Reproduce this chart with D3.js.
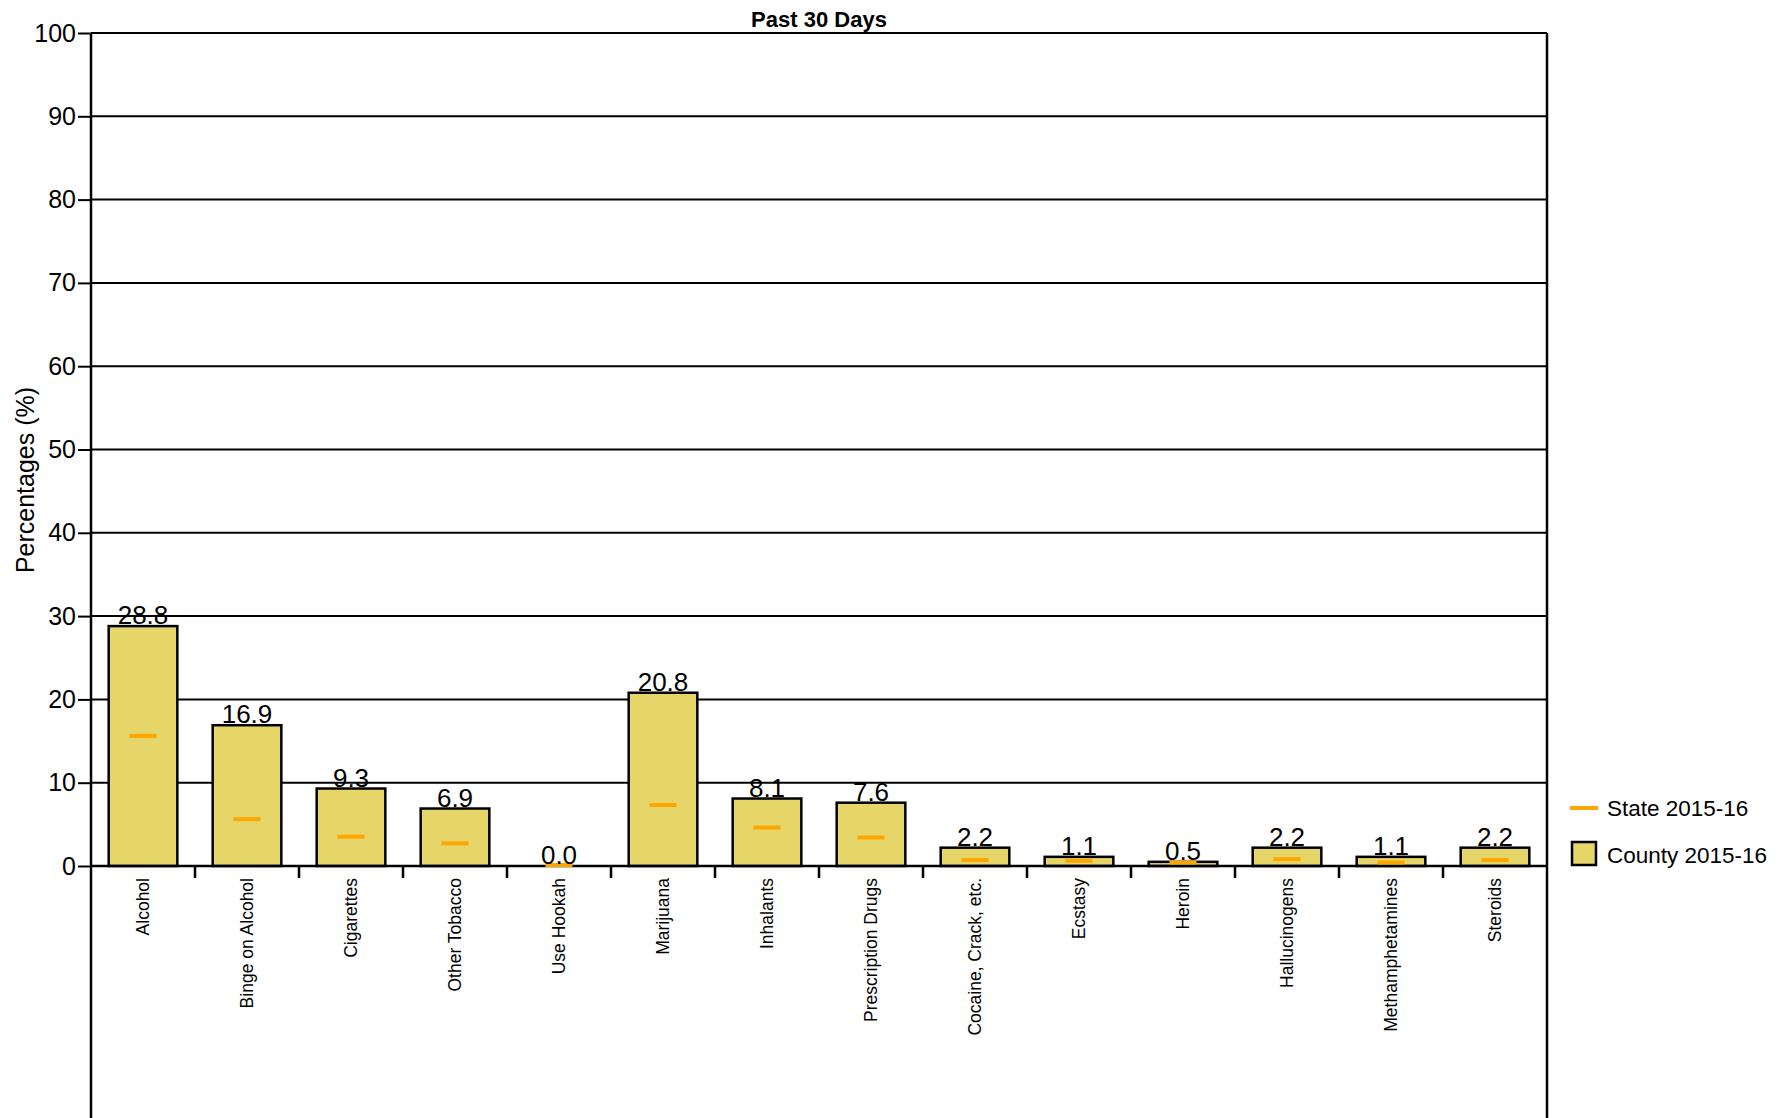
<!DOCTYPE html>
<html>
<head>
<meta charset="utf-8">
<script src="https://cdn.jsdelivr.net/npm/d3@7"></script>
<style>
  body { margin: 0; background: #fff; }
  text { font-family: "Liberation Sans", Arial, sans-serif; fill: #000; }
</style>
</head>
<body>
<svg id="chart" width="1784" height="1118"></svg>
<script>
// categories and values
const categories = ["Alcohol", "Binge on Alcohol", "Cigarettes", "Other Tobacco", "Use Hookah",
  "Marijuana", "Inhalants", "Prescription Drugs", "Cocaine, Crack, etc.", "Ecstasy",
  "Heroin", "Hallucinogens", "Methamphetamines", "Steroids"]
const county = [28.8, 16.9, 9.3, 6.9, 0.0, 20.8, 8.1, 7.6, 2.2, 1.1, 0.5, 2.2, 1.1, 2.2]
const state = [15.5, 5.5, 3.4, 2.6, 0.0, 7.2, 4.5, 3.3, 0.6, 0.5, 0.3, 0.7, 0.3, 0.6]
const yTicks = [0, 10, 20, 30, 40, 50, 60, 70, 80, 90, 100]

const svg = d3.select("#chart")
const W = 1784, H = 1118
const plotLeft = 91, plotRight = 1547, plotTop = 33, plotBottom = 866

const x = d3.scaleBand().domain(categories).range([plotLeft, plotRight]).paddingInner(0.34).paddingOuter(0.17)
const y = d3.scaleLinear().domain([0, 100]).range([plotBottom, plotTop])

const barFill = "rgb(230, 214, 106)"
const stateColor = "#FFA500"

// horizontal gridlines
svg.append("g")
  .selectAll("line")
  .data(yTicks)
  .join("line")
  .attr("x1", plotLeft).attr("x2", plotRight)
  .attr("y1", d => y(d)).attr("y2", d => y(d))
  .attr("stroke", "#000")
  .attr("stroke-width", 2)

// y axis with outer ticks
const yAxis = svg.append("g")
  .attr("transform", `translate(${plotLeft},0)`)
  .call(d3.axisLeft(y).tickValues(yTicks).tickSize(13).tickPadding(2).tickFormat(d3.format("d")))
yAxis.select(".domain").remove()
yAxis.selectAll(".tick line").attr("stroke", "#000").attr("stroke-width", 2)
yAxis.selectAll(".tick text")
  .style("font-family", '"Liberation Sans", Arial, sans-serif')
  .style("font-size", "25px")
  .attr("fill", "#000")

// left and right frame lines run to the bottom
svg.append("line")
  .attr("x1", plotLeft).attr("x2", plotLeft).attr("y1", plotTop).attr("y2", H)
  .attr("stroke", "#000").attr("stroke-width", 2.5)
svg.append("line")
  .attr("x1", plotRight).attr("x2", plotRight).attr("y1", plotTop).attr("y2", H)
  .attr("stroke", "#000").attr("stroke-width", 2.5)

// county bars
svg.append("g")
  .selectAll("rect")
  .data(categories)
  .join("rect")
  .attr("x", d => x(d))
  .attr("y", (d, i) => y(county[i]))
  .attr("width", x.bandwidth())
  .attr("height", (d, i) => y(0) - y(county[i]))
  .attr("fill", barFill)
  .attr("stroke", "#000")
  .attr("stroke-width", 2.5)

// baseline
svg.append("line")
  .attr("x1", plotLeft).attr("x2", plotRight).attr("y1", y(0)).attr("y2", y(0))
  .attr("stroke", "#000").attr("stroke-width", 2.5)

// state markers
const markW = 27
svg.append("g")
  .selectAll("line")
  .data(categories)
  .join("line")
  .attr("x1", d => x(d) + x.bandwidth() / 2 - markW / 2)
  .attr("x2", d => x(d) + x.bandwidth() / 2 + markW / 2)
  .attr("y1", (d, i) => y(state[i]) - 1)
  .attr("y2", (d, i) => y(state[i]) - 1)
  .attr("stroke", stateColor)
  .attr("stroke-width", 4)

// value labels
svg.append("g")
  .selectAll("text")
  .data(categories)
  .join("text")
  .attr("x", d => x(d) + x.bandwidth() / 2)
  .attr("y", (d, i) => y(county[i]) - 2)
  .attr("text-anchor", "middle")
  .style("font-size", "26px")
  .text((d, i) => county[i].toFixed(1))

// tick marks between categories
const gap = (x.step() - x.bandwidth()) / 2
svg.append("g")
  .selectAll("line")
  .data(categories.slice(1))
  .join("line")
  .attr("x1", d => x(d) - gap).attr("x2", d => x(d) - gap)
  .attr("y1", y(0)).attr("y2", y(0) + 12)
  .attr("stroke", "#000").attr("stroke-width", 2.5)

// category labels, rotated
svg.append("g")
  .selectAll("text")
  .data(categories)
  .join("text")
  .attr("transform", d => `translate(${x(d) + x.bandwidth() / 2},${y(0) + 12}) rotate(-90)`)
  .attr("text-anchor", "end")
  .attr("dy", "0.35em")
  .style("font-size", "17.5px")
  .text(d => d)

// title
svg.append("text")
  .attr("x", (plotLeft + plotRight) / 2)
  .attr("y", 27)
  .attr("text-anchor", "middle")
  .style("font-size", "22px")
  .style("font-weight", "bold")
  .text("Past 30 Days")

// y axis title
svg.append("text")
  .attr("transform", "translate(34,480) rotate(-90)")
  .attr("text-anchor", "middle")
  .style("font-size", "25px")
  .text("Percentages (%)")

// legend
const lg = svg.append("g")
lg.append("line")
  .attr("x1", 1570).attr("x2", 1598).attr("y1", 808).attr("y2", 808)
  .attr("stroke", stateColor).attr("stroke-width", 4)
lg.append("text")
  .attr("x", 1607).attr("y", 808).attr("dy", "0.35em")
  .style("font-size", "22.5px")
  .text("State 2015-16")
lg.append("rect")
  .attr("x", 1572).attr("y", 842).attr("width", 24).attr("height", 23)
  .attr("fill", barFill).attr("stroke", "#000").attr("stroke-width", 2.5)
lg.append("text")
  .attr("x", 1607).attr("y", 855).attr("dy", "0.35em")
  .style("font-size", "22.5px")
  .text("County 2015-16")
</script>
</body>
</html>
